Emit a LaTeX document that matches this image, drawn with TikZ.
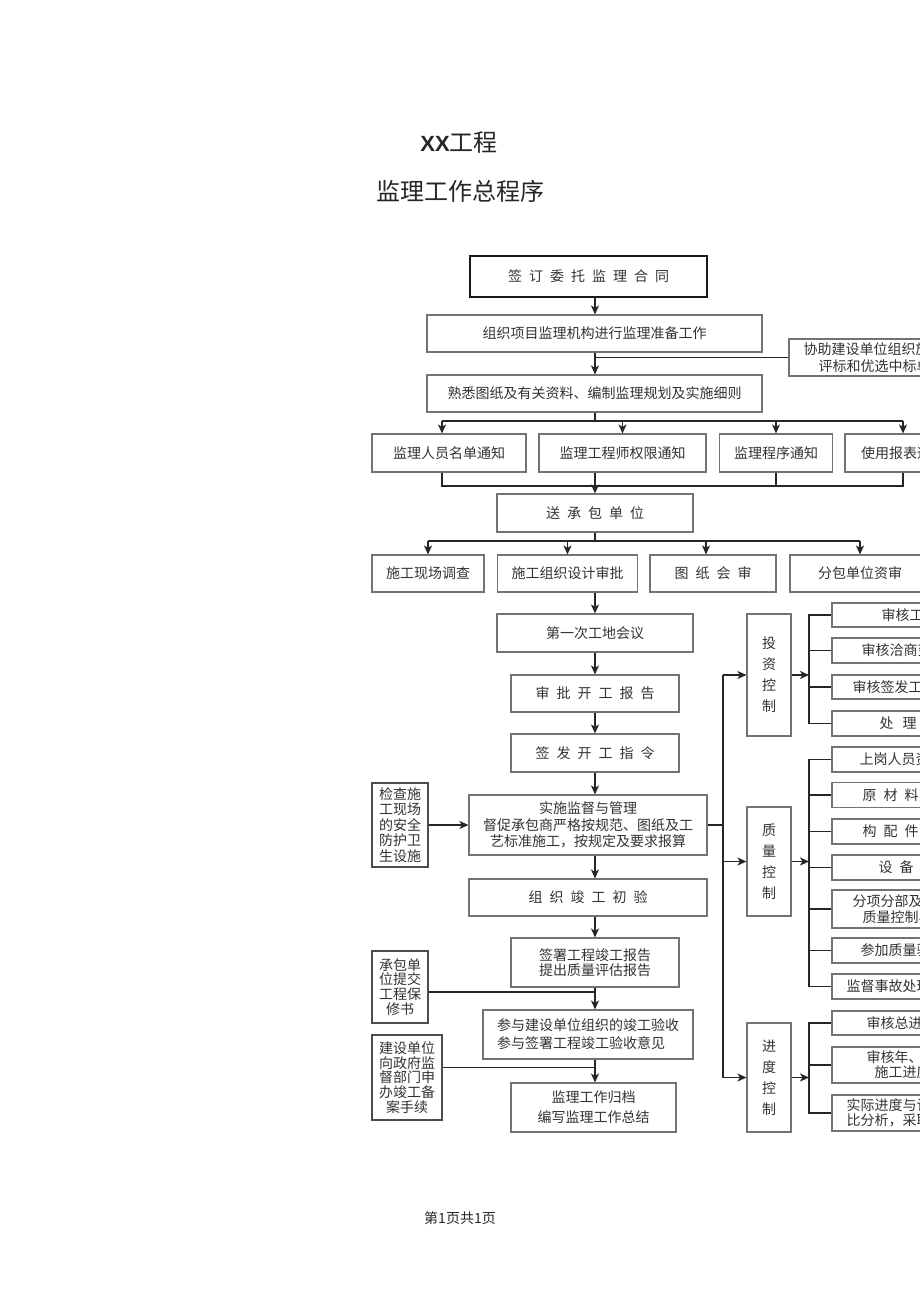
\documentclass[tikz,border=0pt]{standalone}
\usepackage{fontspec}
\setmainfont{Noto Sans CJK SC}
\newfontfamily\latinb{Liberation Sans}
\usetikzlibrary{arrows.meta}
\newcommand{\boxfont}{\fontsize{14}{16.5}\selectfont}
\newcommand{\sg}{\hspace{7pt}}
\newcommand{\sgw}{\hspace{9pt}}
\begin{document}
\begin{tikzpicture}[x=1pt,y=-1pt,
 bx/.style={draw=black!55, line width=1.1pt, inner sep=0pt, text=black!80, font=\boxfont, align=center},
 thk/.style={draw=black!90, line width=2pt},
 ln/.style={draw=black!85, line width=1.7pt},
 arr/.style={ln, -{Stealth[length=9pt,width=8pt,inset=2.5pt]}},
 tx/.style={inner sep=0pt, text=black!80, font=\boxfont, anchor=west, align=left},
 ttl/.style={inner sep=0pt, text=black!85, font={\fontsize{24}{28}\selectfont}},
]
\fill[white] (0,0) rectangle (920,1301);
\useasboundingbox (0,0) rectangle (920,1301);
\clip (0,0) rectangle (920,1301);

% titles
\node[ttl] (t1) at (459,143) {{\latinb\bfseries\fontsize{22}{26}\selectfont XX}工程};
\node[ttl] (t2) at (460,191.5) {监理工作总程序};
\node[inner sep=0pt, text=black!85, font={\fontsize{14}{16}\selectfont}] (ft) at (460,1218) {第1页共1页};

% main column
\node[bx, thk, minimum width=237pt, minimum height=41pt] (b1) at (588.5,276.5) {签\sg 订\sg 委\sg 托\sg 监\sg 理\sg 合\sg 同};
\node[bx, minimum width=335pt, minimum height=37pt] (b2) at (594.5,333.5) {组织项目监理机构进行监理准备工作};
\node[bx, minimum width=198pt, minimum height=37pt] (side) at (888,357.5) {};
\node[tx, font={\fontsize{14}{17}\selectfont}] (sidet) at ([xshift=15pt]side.west) {协助建设单位组织施工招标\\\hspace*{15pt}评标和优选中标单位};
\node[bx, minimum width=335pt, minimum height=37pt] (b3) at (594.5,393.5) {熟悉图纸及有关资料、编制监理规划及实施细则};

\node[bx, minimum width=154pt, minimum height=38pt] (r4a) at (449,453) {监理人员名单通知};
\node[bx, minimum width=167pt, minimum height=38pt] (r4b) at (622.5,453) {监理工程师权限通知};
\node[bx, minimum width=112.5pt, minimum height=38pt] (r4c) at (776,453) {监理程序通知};
\node[bx, minimum width=116pt, minimum height=38pt] (r4d) at (903,453) {使用报表通知};

\node[bx, minimum width=196pt, minimum height=38pt] (r5) at (595,513) {送\sg 承\sg 包\sg 单\sg 位};

\node[bx, minimum width=112pt, minimum height=37pt] (r6a) at (428,573.5) {施工现场调查};
\node[bx, minimum width=140pt, minimum height=37pt] (r6b) at (567.5,573.5) {施工组织设计审批};
\node[bx, minimum width=126pt, minimum height=37pt] (r6c) at (713,573.5) {图\sg 纸\sg 会\sg 审};
\node[bx, minimum width=140pt, minimum height=37pt] (r6d) at (860,573.5) {分包单位资审};

\node[bx, minimum width=196pt, minimum height=38pt] (b7) at (595,633) {第一次工地会议};
\node[bx, minimum width=168pt, minimum height=37pt] (b8) at (595,693.5) {审\sg 批\sg 开\sg 工\sg 报\sg 告};
\node[bx, minimum width=168pt, minimum height=38pt] (b9) at (595,753) {签\sg 发\sg 开\sg 工\sg 指\sg 令};
\node[bx, minimum width=238pt, minimum height=60pt] (b10) at (588,825) {实施监督与管理\\督促承包商严格按规范、图纸及工\\艺标准施工，按规定及要求报算};
\node[bx, minimum width=238pt, minimum height=37pt] (b11) at (588,897.5) {组\sg 织\sg 竣\sg 工\sg 初\sg 验};
\node[bx, minimum width=168pt, minimum height=49pt, font={\fontsize{14}{15.5}\selectfont}] (b12) at (595,962.5) {签署工程竣工报告\\提出质量评估报告};
\node[bx, minimum width=210pt, minimum height=49pt, font={\fontsize{14}{18}\selectfont}, align=left] (b13) at (588,1034.5) {参与建设单位组织的竣工验收\\参与签署工程竣工验收意见};
\node[bx, minimum width=165pt, minimum height=49pt, font={\fontsize{14}{20}\selectfont}] (b14) at (593.5,1107.5) {监理工作归档\\编写监理工作总结};

% left boxes
\node[bx, draw=black!70, minimum width=56pt, minimum height=84pt, font={\fontsize{14}{15.5}\selectfont}] (L1) at (400,825) {检查施\\工现场\\的安全\\防护卫\\生设施};
\node[bx, draw=black!70, minimum width=56pt, minimum height=72pt, font={\fontsize{14}{14.8}\selectfont}] (L2) at (400,987) {承包单\\位提交\\工程保\\修书};
\node[bx, draw=black!70, minimum width=70pt, minimum height=85pt, font={\fontsize{14}{14.8}\selectfont}] (L3) at (407,1077.5) {建设单位\\向政府监\\督部门申\\办竣工备\\案手续};

% control boxes
\node[bx, minimum width=44pt, minimum height=122pt, font={\fontsize{14}{21}\selectfont}] (I1) at (769,675) {投\\资\\控\\制};
\node[bx, minimum width=44pt, minimum height=109pt, font={\fontsize{14}{21}\selectfont}] (Q1) at (769,861.5) {质\\量\\控\\制};
\node[bx, minimum width=44pt, minimum height=109pt, font={\fontsize{14}{21}\selectfont}] (S1) at (769,1077.5) {进\\度\\控\\制};

% right boxes
\node[bx, minimum width=178pt, minimum height=24pt] (ia) at (921,615) {};
\node[bx, minimum width=178pt, minimum height=25pt] (ib) at (921,650.5) {};
\node[bx, minimum width=178pt, minimum height=24pt] (ic) at (921,687) {};
\node[bx, minimum width=178pt, minimum height=25pt] (id) at (921,723.5) {};
\node[tx] (tia) at ([xshift=50pt]ia.west) {审核工程量};
\node[tx] (tib) at ([xshift=30pt]ib.west) {审核洽商变更签证};
\node[tx] (tic) at ([xshift=21pt]ic.west) {审核签发工程款支付证书};
\node[tx] (tid) at ([xshift=48pt]id.west) {处\sgw 理\sgw 索\sgw 赔};

\node[bx, minimum width=178pt, minimum height=25pt] (qa) at (921,759.5) {};
\node[bx, minimum width=178pt, minimum height=25pt] (qb) at (921,795) {};
\node[bx, minimum width=178pt, minimum height=25pt] (qc) at (921,831.5) {};
\node[bx, minimum width=178pt, minimum height=25pt] (qd) at (921,867.5) {};
\node[bx, minimum width=178pt, minimum height=38pt] (qe) at (921,909) {};
\node[bx, minimum width=178pt, minimum height=25pt] (qf) at (921,950.5) {};
\node[bx, minimum width=178pt, minimum height=25pt] (qg) at (921,986.5) {};
\node[tx] (tqa) at ([xshift=28pt]qa.west) {上岗人员资质审查};
\node[tx] (tqb) at ([xshift=31pt]qb.west) {原\sg 材\sg 料\sg 检\sg 验};
\node[tx] (tqc) at ([xshift=31pt]qc.west) {构\sg 配\sg 件\sg 检\sg 验};
\node[tx] (tqd) at ([xshift=47pt]qd.west) {设\sg 备\sg 检\sg 验};
\node[tx, font={\fontsize{14}{16}\selectfont}] (tqe) at ([xshift=21pt]qe.west) {分项分部及单位工程\\\hspace*{10pt}质量控制与验收};
\node[tx] (tqf) at ([xshift=29pt]qf.west) {参加质量验收评定};
\node[tx] (tqg) at ([xshift=15pt]qg.west) {监督事故处理情况};

\node[bx, minimum width=178pt, minimum height=24pt] (sa) at (921,1023) {};
\node[bx, minimum width=178pt, minimum height=36pt] (sb) at (921,1065) {};
\node[bx, minimum width=178pt, minimum height=36pt] (sc) at (921,1113) {};
\node[tx] (tsa) at ([xshift=35pt]sa.west) {审核总进度计划};
\node[tx, font={\fontsize{14}{15}\selectfont}] (tsb) at ([xshift=35pt]sb.west) {审核年、季、月\\\hspace*{8pt}施工进度计划};
\node[tx, font={\fontsize{14}{15}\selectfont}] (tsc) at ([xshift=15pt]sc.west) {实际进度与计划进度对\\比分析，采取纠偏措施};

% helper coordinates
\coordinate (sp) at (595,0);
\coordinate (bA) at (0,421);
\coordinate (bB) at (0,486);
\coordinate (bC) at (0,541);
\coordinate (rv) at (723,0);
\coordinate (bk) at (809,0);

% top connectors
\draw[arr] (b1.south -| sp) -- (b2.north -| sp);
\draw[arr] (b2.south -| sp) -- (b3.north -| sp);
\draw[ln] (side.west) -- (side.west -| sp);
\draw[ln] (b3.south -| sp) -- (sp |- bA);
\draw[ln] ([xshift=-7pt]r4a.north |- bA) -- (r4d.north |- bA);
\draw[arr] ([xshift=-7pt]r4a.north |- bA) -- ([xshift=-7pt]r4a.north);
\draw[arr] (r4b.north |- bA) -- (r4b.north);
\draw[arr] (r4c.north |- bA) -- (r4c.north);
\draw[arr] (r4d.north |- bA) -- (r4d.north);
\draw[ln] ([xshift=-7pt]r4a.south) -- ([xshift=-7pt]r4a.south |- bB) -- (r4d.south |- bB) -- (r4d.south);
\draw[ln] (r4b.south -| sp) -- (sp |- bB);
\draw[ln] (r4c.south) -- (r4c.south |- bB);
\draw[arr] (sp |- bB) -- (r5.north -| sp);
\draw[ln] (r5.south -| sp) -- (sp |- bC);
\draw[ln] (r6a.north |- bC) -- (r6d.north |- bC);
\draw[arr] (r6a.north |- bC) -- (r6a.north);
\draw[arr] (r6b.north |- bC) -- (r6b.north);
\draw[arr] ([xshift=-7pt]r6c.north |- bC) -- ([xshift=-7pt]r6c.north);
\draw[arr] (r6d.north |- bC) -- (r6d.north);

% main chain
\draw[arr] (r6b.south -| sp) -- (b7.north -| sp);
\draw[arr] (b7.south -| sp) -- (b8.north -| sp);
\draw[arr] (b8.south -| sp) -- (b9.north -| sp);
\draw[arr] (b9.south -| sp) -- (b10.north -| sp);
\draw[arr] (b10.south -| sp) -- (b11.north -| sp);
\draw[arr] (b11.south -| sp) -- (b12.north -| sp);
\draw[arr] (b12.south -| sp) -- (b13.north -| sp);
\draw[arr] (b13.south -| sp) -- (b14.north -| sp);

% left inputs
\draw[arr] (L1.east) -- (b10.west);
\draw[ln] ([yshift=-5pt]L2.east) -- ([yshift=-5pt]L2.east -| sp);
\draw[ln] ([yshift=10pt]L3.east) -- ([yshift=10pt]L3.east -| sp);

% right branch
\draw[ln] (b10.east) -- (b10.east -| rv);
\draw[ln] (I1.west -| rv) -- (S1.west -| rv);
\draw[arr] (I1.west -| rv) -- (I1.west);
\draw[arr] (Q1.west -| rv) -- (Q1.west);
\draw[arr] (S1.west -| rv) -- (S1.west);

\draw[arr] (I1.east) -- (I1.east -| bk);
\draw[ln] (ia.west) -- (ia.west -| bk) -- (id.west -| bk) -- (id.west);
\draw[ln] (ib.west) -- (ib.west -| bk);
\draw[ln] (ic.west) -- (ic.west -| bk);

\draw[arr] (Q1.east) -- (Q1.east -| bk);
\draw[ln] (qa.west) -- (qa.west -| bk) -- (qg.west -| bk) -- (qg.west);
\foreach \n in {qb,qc,qd,qe,qf} \draw[ln] (\n.west) -- (\n.west -| bk);

\draw[arr] (S1.east) -- (S1.east -| bk);
\draw[ln] (sa.west) -- (sa.west -| bk) -- (sc.west -| bk) -- (sc.west);
\draw[ln] (sb.west) -- (sb.west -| bk);
\end{tikzpicture}
\end{document}
